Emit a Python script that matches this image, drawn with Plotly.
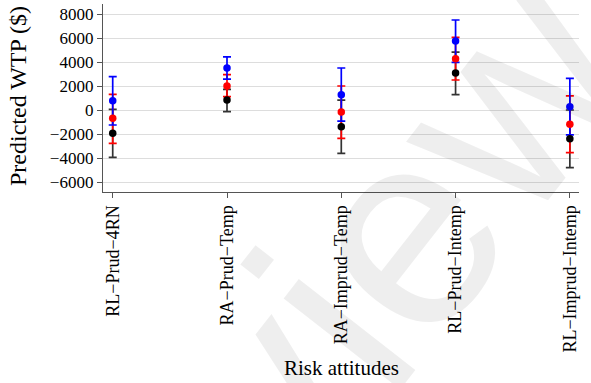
import plotly.graph_objects as go

# Risk-attitude groups on the x axis
categories = ["RL−Prud−4RN", "RA−Prud−Temp", "RA−Imprud−Temp", "RL−Prud−Intemp", "RL−Imprud−Intemp"]

# Predicted WTP ($) with confidence bounds, three series
blue_mean = [780, 3500, 1280, 5750, 280]
blue_low = [-1250, 2580, -920, 3970, -2080]
blue_high = [2780, 4420, 3500, 7500, 2640]

red_mean = [-690, 2000, -170, 4280, -1190]
red_low = [-2780, 1110, -2360, 2500, -3560]
red_high = [1310, 2940, 2000, 6060, 1170]

black_mean = [-1940, 830, -1390, 3080, -2390]
black_low = [-3940, -140, -3610, 1280, -4810]
black_high = [60, 1720, 830, 4830, 0]

y_ticks = [8000, 6000, 4000, 2000, 0, -2000, -4000, -6000]

series = [
    (black_mean, black_low, black_high, "#000000", "#333333"),
    (red_mean, red_low, red_high, "#ff0000", "#ff0000"),
    (blue_mean, blue_low, blue_high, "#0000ff", "#0000ff"),
]

x_idx = list(range(len(categories)))
fig = go.Figure()

# error bars first so every point sits on top of all whiskers
for mean, low, high, col, ecol in series:
    fig.add_trace(go.Scatter(
        x=x_idx, y=mean, mode="markers",
        marker=dict(size=1, opacity=0),
        error_y=dict(type="data", symmetric=False,
                     array=[h - m for h, m in zip(high, mean)],
                     arrayminus=[m - l for m, l in zip(mean, low)],
                     color=ecol, thickness=1.7, width=4),
        hoverinfo="skip", showlegend=False,
    ))

for mean, low, high, col, ecol in series:
    fig.add_trace(go.Scatter(
        x=x_idx, y=mean, mode="markers",
        marker=dict(size=7.5, color=col),
        showlegend=False,
    ))

serif = "Liberation Serif"
axis_col = "#555555"

fig.update_layout(
    width=591, height=383,
    margin=dict(l=103, r=12, t=4, b=191),
    paper_bgcolor="white", plot_bgcolor="white",
    font=dict(family=serif, size=17, color="black"),
    xaxis=dict(
        range=[-0.085, 4.08],
        tickvals=x_idx, ticktext=categories, tickangle=-90,
        showline=True, linecolor=axis_col, linewidth=1.3,
        ticks="outside", ticklen=5, tickcolor=axis_col, tickwidth=1,
        showgrid=False, zeroline=False,
        tickfont=dict(family=serif, size=18, color="black"),
    ),
    yaxis=dict(
        range=[-6833, 8833],
        tickvals=y_ticks,
        showline=True, linecolor=axis_col, linewidth=1.3,
        ticks="outside", ticklen=5, tickcolor=axis_col, tickwidth=1,
        showgrid=True, gridcolor="#dddddd", gridwidth=1.3,
        zeroline=False,
        tickfont=dict(family=serif, size=17, color="black"),
    ),
    annotations=[
        dict(text="Predicted WTP ($)", xref="paper", yref="paper",
             x=(18 - 103) / 476, y=(192 - 96) / 188,
             xanchor="center", yanchor="middle", textangle=-90,
             showarrow=False, font=dict(family=serif, size=24, color="black")),
        dict(text="Risk attitudes", xref="paper", yref="paper",
             x=(341 - 103) / 476, y=(192 - 368) / 188,
             xanchor="center", yanchor="middle",
             showarrow=False, font=dict(family=serif, size=21, color="black")),
        dict(text="Preview", xref="paper", yref="paper",
             x=(265 - 103) / 476, y=(192 - 405) / 188,
             xanchor="center", yanchor="middle", textangle=-52,
             showarrow=False,
             font=dict(family="Liberation Sans", size=280, color="rgba(0,0,0,0.065)")),
    ],
)

fig.write_html("out.html")
